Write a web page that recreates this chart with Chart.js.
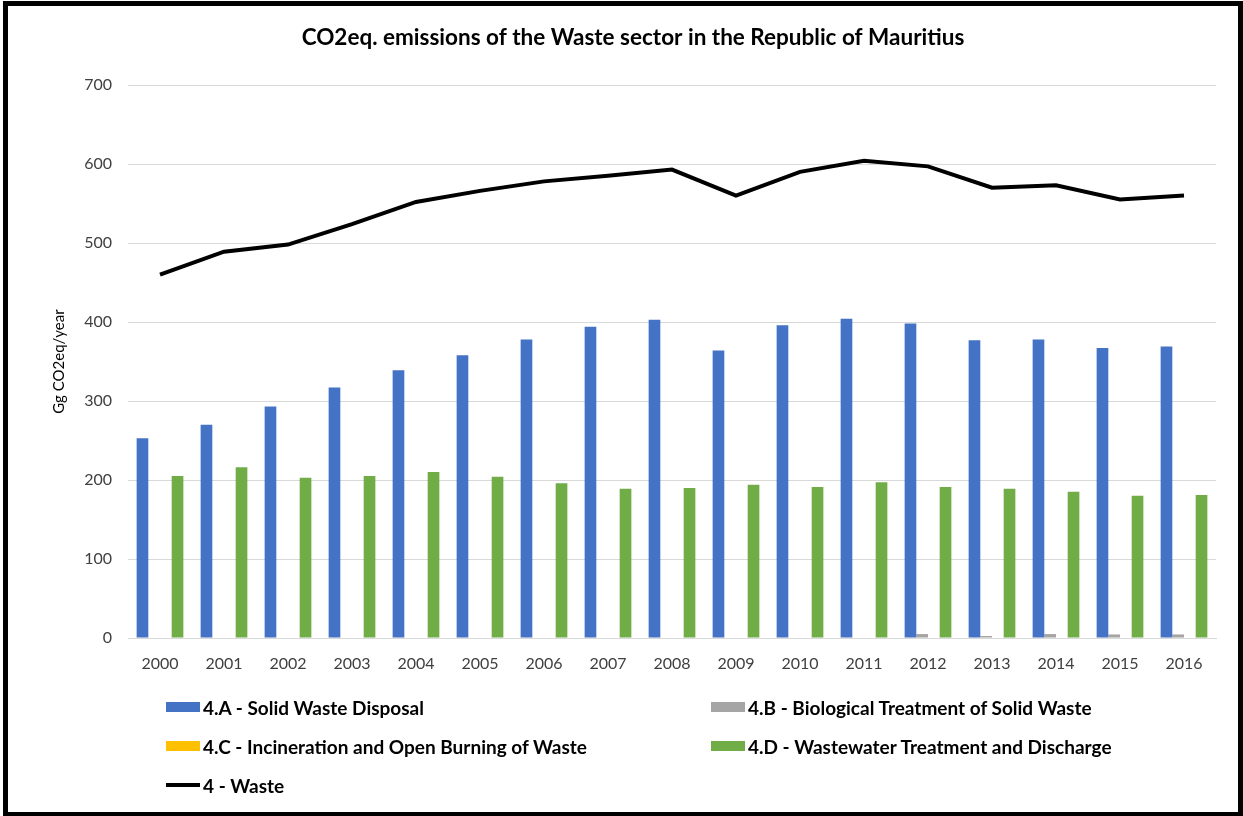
<!DOCTYPE html>
<html>
<head>
<meta charset="utf-8">
<script src="https://cdn.jsdelivr.net/npm/chart.js@4.4.1/dist/chart.umd.min.js"></script>
<style>
  html, body { margin: 0; padding: 0; background: #fff; }
  #wrap { position: relative; width: 1243px; height: 816px; overflow: hidden; }
  #frame { position: absolute; left: 3px; top: 1px; width: 1230px; height: 806px; border: 5px solid #000; }
  #chartMain { position: absolute; left: 0; top: 0; }
  #legend { position: absolute; left: 166px; top: 694px; width: 1000px;
    display: grid; grid-template-columns: 545px 450px; row-gap: 13px;
    font-family: Lato, "Open Sans", sans-serif; font-weight: bold; font-size: 19px; color: #000; }
  #legend .item { display: flex; align-items: center; height: 26px; white-space: nowrap; }
  #legend .box { width: 34px; height: 10px; margin-right: 3px; }
  #legend .ln { width: 34px; height: 4px; margin-right: 3px; background: #000; }
</style>
</head>
<body>
<div id="wrap">
  <canvas id="chartMain" width="1243" height="816"></canvas>
  <div id="frame"></div>
  <div id="legend"></div>
</div>
<script>
const anios = ["2000","2001","2002","2003","2004","2005","2006","2007","2008",
               "2009","2010","2011","2012","2013","2014","2015","2016"];
const residuosSolidos = [253, 270, 293, 317, 339, 358, 378, 394, 403, 364, 396, 404, 398, 377, 378, 367, 369];
const tratamientoBio  = [0, 0, 0, 0, 0, 0, 0, 0, 0, 0, 0, 0, 5, 2.5, 5, 4.5, 4.5];
const incineracion    = [0, 0, 0, 0, 0, 0, 0, 0, 0, 0, 0, 0, 0, 0, 0, 0, 0];
const aguasResiduales = [205, 216, 203, 205, 210, 204, 196, 189, 190, 194, 191, 197, 191, 189, 185, 180, 181];
const totalResiduos   = [460, 489, 498, 524, 552, 566, 578, 585, 593, 560, 590, 604, 597, 570, 573, 555, 560];
const ticksY = [0, 100, 200, 300, 400, 500, 600, 700];

const ctx = document.getElementById("chartMain").getContext("2d");
const chart = new Chart(ctx, {
  type: "bar",
  data: {
    labels: anios,
    datasets: [
      { label: "4.A - Solid Waste Disposal", data: residuosSolidos, backgroundColor: "#4472c4" },
      { label: "4.B - Biological Treatment of Solid Waste", data: tratamientoBio, backgroundColor: "#a5a5a5" },
      { label: "4.C - Incineration and Open Burning of Waste", data: incineracion, backgroundColor: "#ffc000" },
      { label: "4.D - Wastewater Treatment and Discharge", data: aguasResiduales, backgroundColor: "#70ad47" },
      { label: "4 - Waste", type: "line", data: totalResiduos, borderColor: "#000", backgroundColor: "#000",
        borderWidth: 4, pointRadius: 0, tension: 0, order: -1 }
    ]
  },
  options: {
    responsive: false,
    animation: false,
    devicePixelRatio: 1,
    layout: { padding: { left: 50, right: 27, top: 13, bottom: 138 } },
    datasets: { bar: { categoryPercentage: 0.73, barPercentage: 1 } },
    scales: {
      x: {
        grid: { display: false },
        border: { display: true, color: "#d9d9d9", width: 1 },
        ticks: { color: "#404040", font: { family: "Lato", size: 16 }, padding: 8, maxRotation: 0 },
        afterFit: s => { s.height = 40; }
      },
      y: {
        min: 0, max: 700,
        afterBuildTicks: s => { s.ticks = ticksY.map(v => ({ value: v })); },
        grid: { color: "#d9d9d9", lineWidth: 1, drawTicks: false },
        border: { display: false },
        ticks: { color: "#404040", font: { family: "Lato", size: 16 }, padding: 16 },
        title: { display: true, text: "Gg CO2eq/year", color: "#000", font: { family: "Lato", size: 15 }, padding: 0 },
        afterFit: s => { s.width = 78; }
      }
    },
    plugins: {
      legend: { display: false },
      tooltip: { enabled: false },
      title: {
        display: true,
        text: "CO2eq. emissions of the Waste sector in the Republic of Mauritius",
        color: "#000",
        font: { family: "Lato", size: 22.5, weight: "bold" },
        padding: { top: 11, bottom: 34 }
      }
    }
  }
});

// leyenda en dos columnas, como la original
const leyenda = document.getElementById("legend");
chart.data.datasets.forEach(ds => {
  const item = document.createElement("div");
  item.className = "item";
  const marca = document.createElement("span");
  if (ds.type === "line") {
    marca.className = "ln";
  } else {
    marca.className = "box";
    marca.style.background = ds.backgroundColor;
  }
  const txt = document.createElement("span");
  txt.textContent = ds.label;
  item.appendChild(marca);
  item.appendChild(txt);
  leyenda.appendChild(item);
});
</script>
</body>
</html>
